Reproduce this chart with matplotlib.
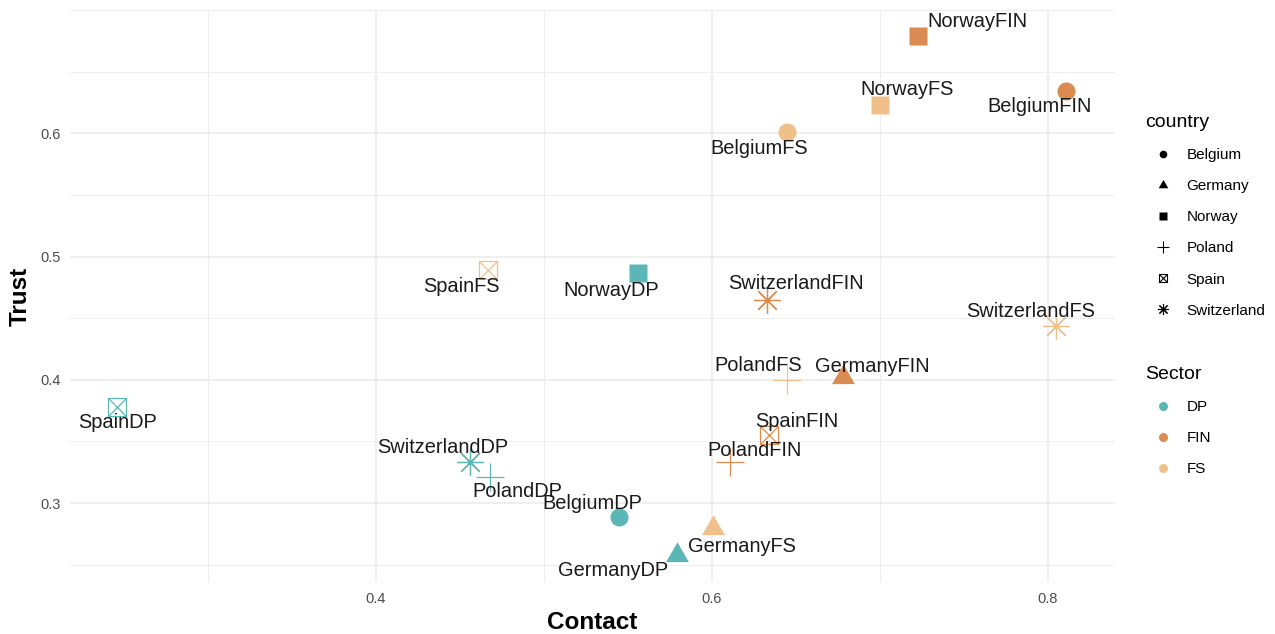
import matplotlib

matplotlib.use("Agg")
import matplotlib.pyplot as plt
from matplotlib.lines import Line2D
from matplotlib.ticker import MultipleLocator

plt.rcParams["font.family"] = ["Liberation Sans", "DejaVu Sans"]

# data
labels = [
    "SpainDP", "SwitzerlandDP", "PolandDP", "BelgiumDP", "GermanyDP", "NorwayDP",
    "SpainFS", "GermanyFS", "PolandFS", "SwitzerlandFS", "BelgiumFS", "NorwayFS",
    "SpainFIN", "PolandFIN", "SwitzerlandFIN", "GermanyFIN", "NorwayFIN", "BelgiumFIN",
]
country = [
    "Spain", "Switzerland", "Poland", "Belgium", "Germany", "Norway",
    "Spain", "Germany", "Poland", "Switzerland", "Belgium", "Norway",
    "Spain", "Poland", "Switzerland", "Germany", "Norway", "Belgium",
]
sector = ["DP"] * 6 + ["FS"] * 6 + ["FIN"] * 6
contact = [
    0.246, 0.456, 0.468, 0.545, 0.579, 0.556,
    0.467, 0.601, 0.645, 0.805, 0.645, 0.700,
    0.634, 0.611, 0.633, 0.678, 0.723, 0.811,
]
trust = [
    0.378, 0.333, 0.321, 0.289, 0.258, 0.487,
    0.489, 0.280, 0.400, 0.444, 0.601, 0.623,
    0.355, 0.333, 0.465, 0.402, 0.679, 0.634,
]

country_levels = ["Belgium", "Germany", "Norway", "Poland", "Spain", "Switzerland"]
sector_levels = ["DP", "FIN", "FS"]

SECTOR_COLORS = {"DP": "#5CB6B6", "FIN": "#D98B52", "FS": "#F0C08A"}

TRIANGLE = [(0, 0.577), (-0.5, -0.289), (0.5, -0.289)]

# label offsets in pixels (repel-style placement)
LABEL_OFFSETS = {
    "SpainDP": (0, -16), "SwitzerlandDP": (-27, 15), "PolandDP": (27, -14),
    "BelgiumDP": (-27, 13), "GermanyDP": (-63, -16), "NorwayDP": (-27, -18),
    "SpainFS": (-27, -16), "GermanyFS": (28, -19), "PolandFS": (-29, 14),
    "SwitzerlandFS": (-26, 14), "BelgiumFS": (-28, -16), "NorwayFS": (27, 15),
    "SpainFIN": (28, 14), "PolandFIN": (24, 12), "SwitzerlandFIN": (29, 16),
    "GermanyFIN": (29, 11), "NorwayFIN": (59, 14), "BelgiumFIN": (-27, -15),
}


def draw_point(ax, x, y, shape, color, scale=1.0, zorder=3):
    if shape == "Belgium":
        ax.plot(x, y, marker="o", ms=13 * scale, color=color, mec="none", zorder=zorder)
    elif shape == "Germany":
        ax.plot(x, y, marker=TRIANGLE, ms=19 * scale, color=color, mec="none", zorder=zorder)
    elif shape == "Norway":
        ax.plot(x, y, marker="s", ms=13.5 * scale, color=color, mec="none", zorder=zorder)
    elif shape == "Poland":
        ax.plot(x, y, marker="+", ms=19.5 * scale, color=color, mew=0.9, zorder=zorder)
    elif shape == "Spain":
        ax.plot(x, y, marker="s", ms=13.5 * scale, mfc="none", mec=color, mew=0.9, zorder=zorder)
        ax.plot(x, y, marker="x", ms=13.5 * scale, color=color, mew=0.9, zorder=zorder)
    elif shape == "Switzerland":
        ax.plot(x, y, marker=(8, 2, 0), ms=19 * scale, color=color, mew=0.9, zorder=zorder)


fig = plt.figure(figsize=(12.75, 6.34), dpi=100)
ax = fig.add_axes([70 / 1275, 1 - 582 / 634, (1115 - 70) / 1275, (582 - 10) / 634])

for lab, c, s, x, y in zip(labels, country, sector, contact, trust):
    draw_point(ax, x, y, c, SECTOR_COLORS[s])
    ax.annotate(
        lab, (x, y), xytext=LABEL_OFFSETS[lab], textcoords="offset pixels",
        ha="center", va="center", fontsize=14.4, color="#1A1A1A", zorder=4,
    )

ax.set_xlim(0.218, 0.840)
ax.set_ylim(0.236, 0.700)
ax.xaxis.set_minor_locator(MultipleLocator(0.1))
ax.yaxis.set_minor_locator(MultipleLocator(0.05))
ax.set_xticks([0.4, 0.6, 0.8])
ax.set_xticklabels(["0.4", "0.6", "0.8"])
ax.set_yticks([0.3, 0.4, 0.5, 0.6])
ax.set_yticklabels(["0.3", "0.4", "0.5", "0.6"])
ax.grid(which="major", color="#EBEBEB", linewidth=1.1, zorder=0)
ax.grid(which="minor", color="#EBEBEB", linewidth=0.6, zorder=0)
ax.set_axisbelow(True)
ax.tick_params(which="both", length=0, pad=7, labelsize=10.5, labelcolor="#4D4D4D")
for spine in ax.spines.values():
    spine.set_visible(False)

ax.set_xlabel("Contact", fontsize=17.5, fontweight="bold", labelpad=4)
ax.set_ylabel("Trust", fontsize=17.5, fontweight="bold", labelpad=6)

# legends
country_handles = []
for c in country_levels:
    if c == "Belgium":
        h = Line2D([], [], ls="none", marker="o", ms=5.5, color="black", mec="none")
    elif c == "Germany":
        h = Line2D([], [], ls="none", marker=TRIANGLE, ms=8, color="black", mec="none")
    elif c == "Norway":
        h = Line2D([], [], ls="none", marker="s", ms=5.5, color="black", mec="none")
    elif c == "Poland":
        h = Line2D([], [], ls="none", marker="+", ms=8, color="black", mew=0.8)
    elif c == "Spain":
        h = (Line2D([], [], ls="none", marker="s", ms=5.5, mfc="none", mec="black", mew=0.8),
             Line2D([], [], ls="none", marker="x", ms=5.5, color="black", mew=0.8))
    else:
        h = Line2D([], [], ls="none", marker=(8, 2, 0), ms=8, color="black", mew=0.8)
    country_handles.append(h)

leg_kw = dict(
    frameon=False, fontsize=11, title_fontsize=14, alignment="left",
    handlelength=2.35, handletextpad=0.35, labelspacing=1.12, borderpad=0,
    borderaxespad=0, loc="upper left", bbox_transform=fig.transFigure,
)
leg1 = ax.legend(country_handles, country_levels, title="country",
                 bbox_to_anchor=(1145 / 1275, 1 - 114 / 634), **leg_kw)
ax.add_artist(leg1)

sector_handles = [
    Line2D([], [], ls="none", marker="o", ms=6.5, color=SECTOR_COLORS[s], mec="none")
    for s in sector_levels
]
ax.legend(sector_handles, sector_levels, title="Sector",
          bbox_to_anchor=(1145 / 1275, 1 - 366 / 634), **leg_kw)

fig.savefig("out.png", dpi=100)
